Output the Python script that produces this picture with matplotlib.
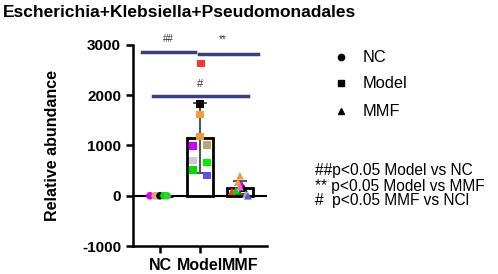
import numpy as np
import matplotlib.pyplot as plt

plt.rcParams['font.family'] = ['Liberation Sans', 'DejaVu Sans']
plt.rcParams['axes.unicode_minus'] = False

groups = ['NC', 'Model', 'MMF']
means = [5, 1140, 160]
sd_low = [0, 680, 130]
sd_high = [0, 700, 130]

# individual samples: (x offset, value, colour)
nc_x = [-0.25, -0.12, -0.05, 0.0, 0.1, 0.18]
nc_y = [0, 0, 0, 0, 0, 0]
nc_c = ['#cc00ff', '#ff9933', '#bbbbbb', '#000000', '#00dd00', '#33cc33']

model_x = [0.0, 0.02, 0.0, 0.0, -0.17, 0.17, -0.17, 0.17, -0.17, 0.17]
model_y = [1820, 2630, 1620, 1180, 990, 1010, 700, 660, 510, 400]
model_c = ['#000000', '#ff3333', '#f0a040', '#e89c40', '#cc00ff', '#b8a878',
           '#cccccc', '#00ee00', '#00dd00', '#5555ee']

mmf_x = [0.0, -0.05, 0.05, -0.2, -0.1, 0.1, 0.0, 0.15, 0.2]
mmf_y = [400, 270, 220, 90, 110, 150, 180, 30, 0]
mmf_c = ['#e0a050', '#ff9933', '#cc00ff', '#ff3333', '#00dd00', '#000000',
         '#ff66cc', '#b8a878', '#5555ee']

sig_color = '#3b3f7e'

fig = plt.figure(figsize=(4.98, 2.74), dpi=100)
ax = fig.add_axes([0.267, 0.102, 0.269, 0.734])

xs = np.arange(len(groups))
ax.bar(xs, means, width=0.63, color='white', edgecolor='black', linewidth=2, zorder=2)
ax.errorbar(xs, means, yerr=[sd_low, sd_high], fmt='none', ecolor='#555555',
            elinewidth=1.5, capsize=5, capthick=1.5, zorder=3)
ax.axhline(0, color='black', linewidth=1.5, zorder=1)

ax.scatter(xs[0] + np.array(nc_x), nc_y, marker='o', s=30, c=nc_c, zorder=4, linewidths=0)
ax.scatter(xs[1] + np.array(model_x), model_y, marker='s', s=30, c=model_c, zorder=4, linewidths=0)
ax.scatter(xs[2] + np.array(mmf_x), mmf_y, marker='^', s=30, c=mmf_c, zorder=4, linewidths=0)

# significance bars
ax.plot([-0.45, 0.88], [2850, 2850], color=sig_color, lw=2.5, clip_on=False)
ax.plot([0.97, 2.45], [2810, 2810], color=sig_color, lw=2.5, clip_on=False)
ax.plot([-0.18, 2.2], [1980, 1980], color=sig_color, lw=2.5, clip_on=False)
ax.text(0.2, 3020, '##', ha='center', va='bottom', fontsize=7, color='#333333')
ax.text(1.58, 3020, '**', ha='center', va='bottom', fontsize=7, color='#333333')
ax.text(1.0, 2130, '#', ha='center', va='bottom', fontsize=8, color='#333333')

ax.set_xlim(-0.675, 2.675)
ax.set_ylim(-1000, 3000)
ax.set_yticks([-1000, 0, 1000, 2000, 3000])
ax.set_xticks(xs)
ax.set_xticklabels(groups)
for side in ['top', 'right']:
    ax.spines[side].set_visible(False)
for side in ['left', 'bottom']:
    ax.spines[side].set_linewidth(1.8)
ax.tick_params(width=1.8, length=5)
ax.tick_params(axis='y', labelsize=11)
ax.tick_params(axis='x', labelsize=11.5)
for lab in ax.get_xticklabels() + ax.get_yticklabels():
    lab.set_fontweight('bold')
ax.set_ylabel('Relative abundance', fontsize=11.5, fontweight='bold', labelpad=16)

fig.text(0.006, 0.955, 'Escherichia+Klebsiella+Pseudomonadales', fontsize=12.5,
         fontweight='bold', va='center', ha='left')

# legend
leg_markers = ['o', 's', '^']
leg_y = [57, 83, 111]
for m, name, yy in zip(leg_markers, groups, leg_y):
    fig.lines.append(plt.Line2D([341 / 498], [1 - yy / 274], marker=m, color='black',
                                markersize=4.5, linestyle='none', transform=fig.transFigure))
    fig.text(363 / 498, 1 - yy / 274, name, fontsize=11.8, va='center', ha='left')

notes = ['##p<0.05 Model vs NC', '** p<0.05 Model vs MMF', '#  p<0.05 MMF vs NCl']
note_y = [171, 186, 200]
for t, yy in zip(notes, note_y):
    fig.text(315 / 498, 1 - yy / 274, t, fontsize=11.2, va='center', ha='left')

fig.savefig('out.png', dpi=100)
